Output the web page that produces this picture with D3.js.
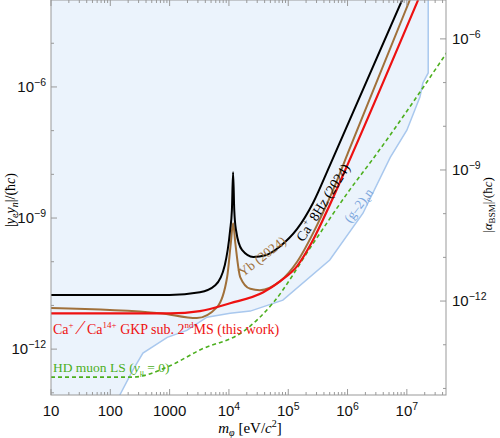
<!DOCTYPE html>
<html><head><meta charset="utf-8">
<script src="https://cdn.jsdelivr.net/npm/d3@7"></script>
<style>body{margin:0;background:#fff}</style></head>
<body><svg id="c" width="500" height="438"></svg>
<script>
// data as [log10 m (eV), log10 |ye yn|]
const black = [[1,-10.76],[3,-10.76],[3.51,-10.70],[3.77,-10.54],[3.93,-10.08],[4.02,-9.28],[4.05,-8.82],[4.07,-7.95],[4.09,-8.82],[4.12,-9.28],[4.22,-9.73],[4.41,-9.89],[4.62,-9.85],[4.86,-9.65],[5.15,-9.25],[5.42,-8.65],[5.70,-7.80],[6.92,-4.01]];
const brown = [[1,-11.06],[2.84,-11.18],[3.46,-11.29],[3.80,-11.04],[3.97,-10.35],[4.03,-9.6],[4.07,-9.12],[4.11,-9.6],[4.19,-10.35],[4.36,-10.62],[4.52,-10.65],[4.86,-10.45],[5.15,-10.0],[5.49,-9.15],[5.82,-8.15],[6.01,-7.50],[7.05,-4.01]];
const red = [[1,-11.18],[3.01,-11.18],[3.51,-11.13],[4.02,-10.95],[4.58,-10.70],[4.86,-10.45],[5.15,-10.1],[5.40,-9.55],[5.70,-8.70],[6.01,-7.75],[7.19,-4.01]];
const green = [[1,-12.64],[2.38,-12.64],[2.96,-12.41],[3.51,-12.02],[4.27,-11.57],[4.74,-10.95],[5.42,-9.58],[6.04,-8.35],[6.41,-7.68],[7.68,-5.20]];
const blue = [[2.16,-13.05],[2.38,-12.48],[2.55,-12.09],[2.96,-11.73],[3.29,-11.57],[3.63,-11.27],[4.02,-11.18],[4.36,-11.13],[4.91,-10.88],[5.70,-9.96],[6.26,-8.89],[6.72,-7.61],[7.00,-6.99],[7.22,-6.23],[7.27,-5.91],[7.36,-5.68],[7.36,-4.01]];
const xTicks = [1,2,3,4,5,6,7];
const xTickLabels = ["10","100","1000","10^4","10^5","10^6","10^7"];
const yLeftTicks = [-6,-9,-12];
const yRightTicks = [-6,-9,-12];

const L=51,R=446,T=0,B=395;
const x=d3.scaleLog().domain([10,Math.pow(10,7.66)]).range([L,R]);
const y=d3.scaleLog().domain([Math.pow(10,-13.05),Math.pow(10,-4.01)]).range([B,T]);
const yr=d3.scaleLog().domain([Math.pow(10,-14.15),Math.pow(10,-5.11)]).range([B,T]);
const svg=d3.select("#c");
svg.append("defs").append("clipPath").attr("id","cp").append("rect").attr("x",L).attr("y",T).attr("width",R-L).attr("height",B-T);
const P=d=>[x(Math.pow(10,d[0])),y(Math.pow(10,d[1]))];
const g=svg.append("g").attr("clip-path","url(#cp)");
const fillPts=[[1,-4.01],[1,-13.5],[2.16,-13.5],...blue];
g.append("path").attr("d",d3.line().x(d=>P(d)[0]).y(d=>P(d)[1])(fillPts)+"Z").attr("fill","#ebf3fc");
const lineL=d3.line().x(d=>P(d)[0]).y(d=>P(d)[1]);
const lineM=d3.line().x(d=>P(d)[0]).y(d=>P(d)[1]).curve(d3.curveMonotoneX);
g.append("path").attr("d",lineL(blue)).attr("fill","none").attr("stroke","#a9c8ee").attr("stroke-width",1.5);
g.append("path").attr("d",lineM(green)).attr("fill","none").attr("stroke","#4caf1e").attr("stroke-width",1.6).attr("stroke-dasharray","4,3");
g.append("path").attr("d",lineM(brown)).attr("fill","none").attr("stroke","#a0703a").attr("stroke-width",2);
g.append("path").attr("d",lineM(red)).attr("fill","none").attr("stroke","#ee1111").attr("stroke-width",2.2);
g.append("path").attr("d",lineM(black)).attr("fill","none").attr("stroke","#000").attr("stroke-width",2);

svg.append("rect").attr("x",L).attr("y",T).attr("width",R-L).attr("height",B-T).attr("fill","none").attr("stroke","#999");
const ax=svg.append("g").attr("stroke","#999");
for(let e=1;e<=7;e++)for(let k=1;k<10;k++){const v=k*Math.pow(10,e);if(v>x.domain()[1])continue;const px=x(v);const len=k==1?6:3;
 ax.append("line").attr("x1",px).attr("x2",px).attr("y1",B).attr("y2",B-len);ax.append("line").attr("x1",px).attr("x2",px).attr("y1",T).attr("y2",T+len);}
for(let e=-13;e<=-4;e++){const py=y(Math.pow(10,e));if(py<T||py>B)continue;const len=(e%3==0)?6:3;ax.append("line").attr("x1",L).attr("x2",L+len).attr("y1",py).attr("y2",py);}
for(let e=-14;e<=-5;e++){const py=yr(Math.pow(10,e));if(py<T||py>B)continue;const len=(e%3==0)?6:3;ax.append("line").attr("x1",R).attr("x2",R-len).attr("y1",py).attr("y2",py);}
const sans="Liberation Sans, Arial, sans-serif", serif="Liberation Serif, Times New Roman, serif";
function pow(t,xx,yy,exp,anchor){const tx=t.append("text").attr("x",xx).attr("y",yy).attr("font-family",sans).attr("font-size",15).attr("text-anchor",anchor).attr("fill","#111");
 tx.append("tspan").text("10");tx.append("tspan").attr("font-size",10.5).attr("dy",-6).text(exp);return tx;}
xTicks.forEach((e,i)=>{const lab=xTickLabels[i];const px=x(Math.pow(10,e));
 if(lab.includes("^"))pow(svg,px,416,lab.split("^")[1],"middle");
 else svg.append("text").attr("x",px).attr("y",416).attr("font-family",sans).attr("font-size",15).attr("text-anchor","middle").attr("fill","#111").text(lab);});
yLeftTicks.forEach(e=>pow(svg,46,y(Math.pow(10,e))+5,"−"+(-e),"end"));
yRightTicks.forEach(e=>pow(svg,452,yr(Math.pow(10,e))+5,"−"+(-e),"start"));
const xt=svg.append("text").attr("x",250).attr("y",433).attr("text-anchor","middle").attr("font-family",serif).attr("font-size",15);
xt.append("tspan").attr("font-style","italic").text("m");xt.append("tspan").attr("font-size",10).attr("dy",3).attr("font-style","italic").text("φ");
xt.append("tspan").attr("dy",-3).text(" [eV/");xt.append("tspan").attr("font-style","italic").text("c");xt.append("tspan").attr("font-size",10).attr("dy",-6).text("2");xt.append("tspan").attr("dy",6).text("]");
const yt=svg.append("text").attr("transform","translate(15,200) rotate(-90)").attr("text-anchor","middle").attr("font-family",serif).attr("font-size",14);
yt.append("tspan").text("|");yt.append("tspan").attr("font-style","italic").text("y");yt.append("tspan").attr("font-size",10).attr("dy",3).attr("font-style","italic").text("e");
yt.append("tspan").attr("dy",-3).attr("font-style","italic").text("y");yt.append("tspan").attr("font-size",10).attr("dy",3).attr("font-style","italic").text("n");
yt.append("tspan").attr("dy",-3).text("|/(ħ");yt.append("tspan").attr("font-style","italic").text("c");yt.append("tspan").text(")");
const rt=svg.append("text").attr("transform","translate(492,205) rotate(-90)").attr("text-anchor","middle").attr("font-family",serif).attr("font-size",13);
rt.append("tspan").text("|");rt.append("tspan").attr("font-style","italic").text("α");rt.append("tspan").attr("font-size",9).attr("dy",3).text("BSM");
rt.append("tspan").attr("dy",-3).text("|/(ħ");rt.append("tspan").attr("font-style","italic").text("c");rt.append("tspan").text(")");
const rl=svg.append("text").attr("x",53).attr("y",334).attr("font-family",serif).attr("font-size",14).attr("fill","#ee1111");
rl.append("tspan").text("Ca");rl.append("tspan").attr("font-size",9).attr("dy",-6).text("+");rl.append("tspan").attr("dy",6).attr("font-size",20).text(" ∕ ");
rl.append("tspan").text("Ca");rl.append("tspan").attr("font-size",9).attr("dy",-6).text("14+");rl.append("tspan").attr("dy",6).text(" GKP sub. 2");
rl.append("tspan").attr("font-size",9).attr("dy",-6).text("nd");rl.append("tspan").attr("dy",6).text("MS (this work)");
const gl=svg.append("text").attr("x",53).attr("y",372).attr("font-family",serif).attr("font-size",13.5).attr("fill","#4caf1e");
gl.append("tspan").text("HD muon LS (");gl.append("tspan").attr("font-style","italic").text("y");gl.append("tspan").attr("font-size",8).attr("dy",3).text("μ");gl.append("tspan").attr("dy",-3).text(" = 0)");
const bl=svg.append("text").attr("transform","translate(327,205) rotate(-58)").attr("text-anchor","middle").attr("font-family",serif).attr("font-size",14).attr("fill","#000");
bl.append("tspan").text("Ca");bl.append("tspan").attr("font-size",9).attr("dy",-6).text("+");bl.append("tspan").attr("dy",6).text(" 8Hz (2024)");
svg.append("text").attr("transform","translate(265,260) rotate(-38)").attr("text-anchor","middle").attr("font-family",serif).attr("font-size",13.5).attr("fill","#a0703a").text("Yb (2024)");
const gn=svg.append("text").attr("transform","translate(362,208) rotate(-53)").attr("text-anchor","middle").attr("font-family",serif).attr("font-size",13).attr("fill","#7ba6dc");
gn.append("tspan").text("(g–2)");gn.append("tspan").attr("font-size",9).attr("dy",3).text("e");gn.append("tspan").attr("dy",-3).text("n");
</script></body></html>
